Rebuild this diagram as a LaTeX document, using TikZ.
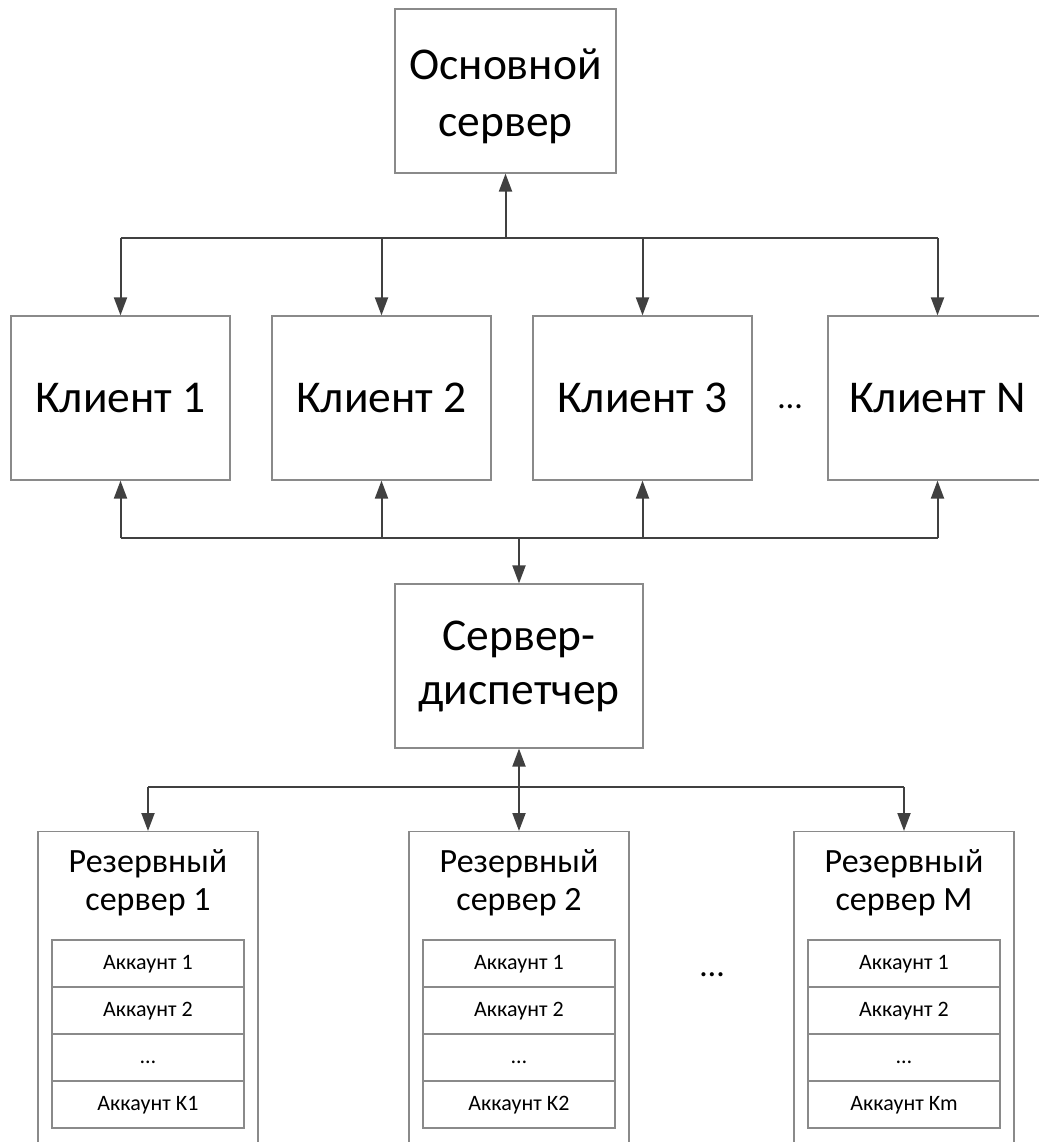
\documentclass[tikz,border=0pt]{standalone}
\usepackage{fontspec}
\setmainfont{Carlito}
\usetikzlibrary{arrows.meta}
\definecolor{boxc}{HTML}{8A8A8A}
\definecolor{linec}{HTML}{404040}
\begin{document}
\begin{tikzpicture}[x=1pt,y=-1pt,
  box/.style={draw=boxc, line width=1.2pt, fill=white, inner sep=0pt, align=center},
  conn/.style={draw=linec, line width=2pt},
  tip/.style={-{Triangle[length=18pt,width=13pt]}},
  tips/.style={{Triangle[length=18pt,width=13pt]}-{Triangle[length=18pt,width=13pt]}},
  big/.style={font=\fontsize{45.5}{54}\selectfont},
  mid/.style={font=\fontsize{34}{38}\selectfont},
  small/.style={font=\fontsize{22}{26}\selectfont, text height=16pt, text depth=5pt},
  plain/.style={inner sep=0pt, align=center}]
\useasboundingbox (0,0) rectangle (1038,1142);

% main server
\node[box, minimum width=221pt, minimum height=164pt] (main) at (505.5,91) {};
\node[plain, font=\fontsize{45.5}{57}\selectfont] (maint) at (505.5,96) {Основной\\сервер};

% clients
\node[box, big, minimum width=219pt, minimum height=164pt] (c1) at (120.5,398) {Клиент 1};
\node[box, big, minimum width=219pt, minimum height=164pt] (c2) at (381.5,398) {Клиент 2};
\node[box, big, minimum width=219pt, minimum height=164pt] (c3) at (642.5,398) {Клиент 3};
\node[box, big, minimum width=219pt, minimum height=164pt] (cN) at (937.5,398) {Клиент N};
\node[plain, mid] (dotsc) at (790,407) {…};

% dispatcher
\node[box, big, minimum width=248pt, minimum height=164pt] (disp) at (519,666) {Сервер-\\диспетчер};

% backup servers
\foreach \s/\x/\n/\k in {s1/148/1/K1, s2/519/2/K2, sM/904/M/Km}{
  \node[box, anchor=north, minimum width=220pt, minimum height=340pt] (\s) at (\x,831) {};
  \node[plain, mid] (\s t) at (\x,883) {Резервный\\сервер \n};
  \node[box, small, minimum width=192pt, minimum height=47pt] (\s a1) at (\x,963.5) {Аккаунт 1};
  \node[box, small, minimum width=192pt, minimum height=47pt] (\s a2) at (\x,1010.5) {Аккаунт 2};
  \node[box, small, minimum width=192pt, minimum height=47pt] (\s a3) at (\x,1057.5) {…};
  \node[box, small, minimum width=192pt, minimum height=47pt] (\s a4) at (\x,1104.5) {Аккаунт \k};
}
\node[plain, mid] (dotss) at (712,975) {…};

% top bus
\coordinate (jt) at (505.5,238);
\draw[conn,tip] (jt) -- (main.south);
\draw[conn] (c1.north |- jt) -- (cN.north |- jt);
\foreach \c in {c1,c2,c3,cN}{
  \draw[conn,tip] (\c.north |- jt) -- (\c.north);
}

% bottom bus of clients
\coordinate (jb) at (519,538);
\draw[conn] (c1.south |- jb) -- (cN.south |- jb);
\foreach \c in {c1,c2,c3,cN}{
  \draw[conn,tip] (\c.south |- jb) -- (\c.south);
}
\draw[conn,tip] (disp.north |- jb) -- (disp.north);

% lower bus
\coordinate (jl) at (519,787);
\draw[conn] (s1.north |- jl) -- (sM.north |- jl);
\draw[conn,tips] (disp.south) -- (s2.north);
\draw[conn,tip] (s1.north |- jl) -- (s1.north);
\draw[conn,tip] (sM.north |- jl) -- (sM.north);
\end{tikzpicture}
\end{document}
